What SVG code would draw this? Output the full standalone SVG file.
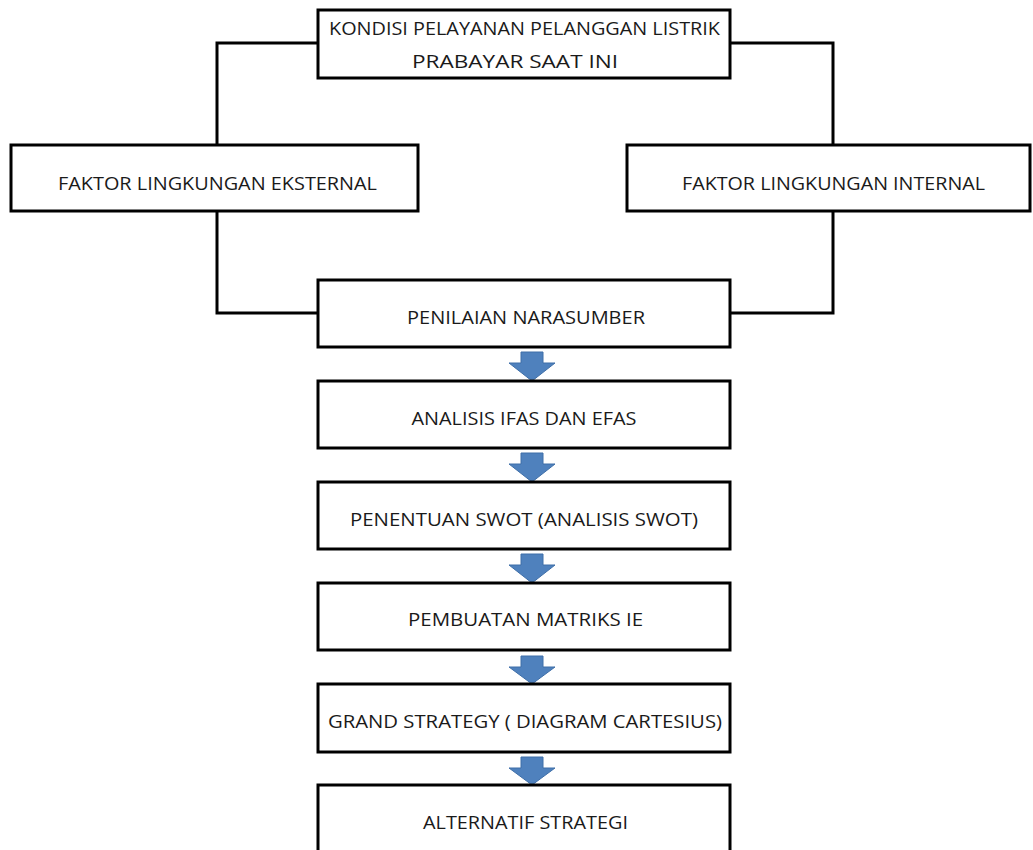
<svg xmlns="http://www.w3.org/2000/svg" width="1033" height="850" viewBox="0 0 1033 850">
<style>
.box{fill:#ffffff;stroke:#000000;stroke-width:3}
.lbl{font-family:"Open Sans","Liberation Sans",sans-serif;font-size:18px;fill:#1a1a1a;text-anchor:middle}
.conn{fill:none;stroke:#000000;stroke-width:3}
.arr{fill:#4F81BD;stroke:#3F6FA8;stroke-width:1}
</style>
<rect width="1033" height="850" fill="#ffffff"/>
<g id="connectors">
<path class="conn" d="M318,43 H217 V145"/>
<path class="conn" d="M730,43 H833 V145"/>
<path class="conn" d="M217,211 V313 H318"/>
<path class="conn" d="M833,211 V313 H730"/>
<path class="arr" d="M521,352 H543 V363 H555 L532,381 L509,363 H521 Z"/>
<path class="arr" d="M521,453 H543 V464 H555 L532,482 L509,464 H521 Z"/>
<path class="arr" d="M521,554 H543 V565 H555 L532,583 L509,565 H521 Z"/>
<path class="arr" d="M521,656 H543 V667 H555 L532,684 L509,667 H521 Z"/>
<path class="arr" d="M521,757 H543 V768 H555 L532,785 L509,768 H521 Z"/>
</g>
<g id="kondisi">
<rect class="box" x="318" y="10" width="412" height="68"/>
<text class="lbl" x="524.5" y="35" textLength="391" lengthAdjust="spacingAndGlyphs">KONDISI PELAYANAN PELANGGAN LISTRIK</text>
<text class="lbl" x="515" y="68" textLength="206" lengthAdjust="spacingAndGlyphs">PRABAYAR SAAT INI</text>
</g>
<g id="eksternal">
<rect class="box" x="11" y="145" width="407" height="66"/>
<text class="lbl" x="217.5" y="189.5" textLength="319" lengthAdjust="spacingAndGlyphs">FAKTOR LINGKUNGAN EKSTERNAL</text>
</g>
<g id="internal">
<rect class="box" x="627" y="145" width="403" height="66"/>
<text class="lbl" x="833.5" y="189.5" textLength="303" lengthAdjust="spacingAndGlyphs">FAKTOR LINGKUNGAN INTERNAL</text>
</g>
<g id="penilaian">
<rect class="box" x="318" y="280" width="412" height="67"/>
<text class="lbl" x="526" y="324" textLength="238" lengthAdjust="spacingAndGlyphs">PENILAIAN NARASUMBER</text>
</g>
<g id="analisis">
<rect class="box" x="318" y="381" width="412" height="67"/>
<text class="lbl" x="524" y="425" textLength="225" lengthAdjust="spacingAndGlyphs">ANALISIS IFAS DAN EFAS</text>
</g>
<g id="swot">
<rect class="box" x="318" y="482" width="412" height="67"/>
<text class="lbl" x="524" y="526" textLength="348" lengthAdjust="spacingAndGlyphs">PENENTUAN SWOT (ANALISIS SWOT)</text>
</g>
<g id="matriks">
<rect class="box" x="318" y="583" width="412" height="67"/>
<text class="lbl" x="525.5" y="626" textLength="235" lengthAdjust="spacingAndGlyphs">PEMBUATAN MATRIKS IE</text>
</g>
<g id="grand">
<rect class="box" x="318" y="684" width="412" height="68"/>
<text class="lbl" x="525" y="728" textLength="394" lengthAdjust="spacingAndGlyphs">GRAND STRATEGY ( DIAGRAM CARTESIUS)</text>
</g>
<g id="alternatif">
<rect class="box" x="318" y="785" width="412" height="68"/>
<text class="lbl" x="525.5" y="829" textLength="205" lengthAdjust="spacingAndGlyphs">ALTERNATIF STRATEGI</text>
</g>
</svg>
